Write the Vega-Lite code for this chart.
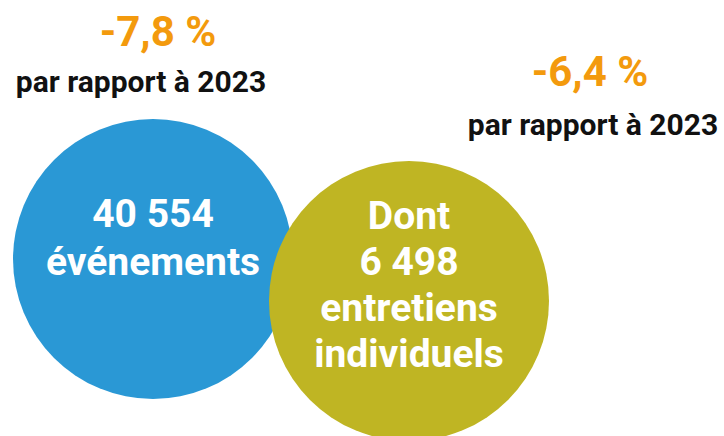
{
  "$schema": "https://vega.github.io/schema/vega-lite/v6.json",
  "width": 724,
  "height": 436,
  "padding": 0,
  "autosize": {"type": "none"},
  "background": "white",
  "config": {"view": {"stroke": null}},
  "datasets": {
    "circles": [
      {"name": "événements", "x": 153, "y": 259, "color": "blue"},
      {"name": "entretiens", "x": 409, "y": 301, "color": "olive"}
    ],
    "labels": [
      {"text": "-7,8 %", "x": 158, "y": 33, "kind": "pct"},
      {"text": "par rapport à 2023", "x": 141, "y": 83, "kind": "ref"},
      {"text": "-6,4 %", "x": 590, "y": 73, "kind": "pct"},
      {"text": "par rapport à 2023", "x": 593, "y": 126, "kind": "ref"},
      {"text": "40 554", "x": 153, "y": 215, "kind": "in"},
      {"text": "événements", "x": 153, "y": 263, "kind": "in"},
      {"text": "Dont", "x": 409, "y": 217, "kind": "in"},
      {"text": "6 498", "x": 409, "y": 263, "kind": "in"},
      {"text": "entretiens", "x": 409, "y": 309, "kind": "in"},
      {"text": "individuels", "x": 409, "y": 355, "kind": "in"}
    ]
  },
  "layer": [
    {
      "data": {"name": "circles"},
      "mark": {"type": "point", "shape": "circle", "filled": true, "opacity": 1},
      "encoding": {
        "x": {"field": "x", "type": "quantitative", "scale": {"domain": [0, 724], "nice": false, "zero": false}, "axis": null},
        "y": {"field": "y", "type": "quantitative", "scale": {"domain": [0, 436], "nice": false, "zero": false, "reverse": true}, "axis": null},
        "size": {"value": 78400},
        "color": {"field": "color", "type": "nominal", "scale": {"domain": ["blue", "olive"], "range": ["#2A98D5", "#BFB523"]}, "legend": null}
      }
    },
    {
      "data": {"name": "labels"},
      "transform": [{"filter": "datum.kind === 'pct'"}],
      "mark": {"type": "text", "font": "Roboto", "fontWeight": "bold", "baseline": "middle", "align": "center", "fontSize": 42, "color": "#F39A0D"},
      "encoding": {
        "x": {"field": "x", "type": "quantitative"},
        "y": {"field": "y", "type": "quantitative"},
        "text": {"field": "text"}
      }
    },
    {
      "data": {"name": "labels"},
      "transform": [{"filter": "datum.kind === 'ref'"}],
      "mark": {"type": "text", "font": "Roboto", "fontWeight": "bold", "baseline": "middle", "align": "center", "fontSize": 30, "color": "#111111"},
      "encoding": {
        "x": {"field": "x", "type": "quantitative"},
        "y": {"field": "y", "type": "quantitative"},
        "text": {"field": "text"}
      }
    },
    {
      "data": {"name": "labels"},
      "transform": [{"filter": "datum.kind === 'in'"}],
      "mark": {"type": "text", "font": "Roboto", "fontWeight": "bold", "baseline": "middle", "align": "center", "fontSize": 39, "color": "#FFFFFF"},
      "encoding": {
        "x": {"field": "x", "type": "quantitative"},
        "y": {"field": "y", "type": "quantitative"},
        "text": {"field": "text"}
      }
    }
  ]
}
